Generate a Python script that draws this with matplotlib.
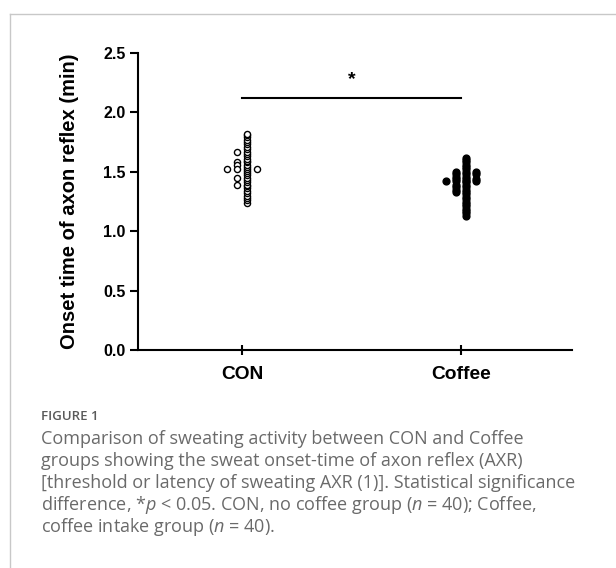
import numpy as np
import matplotlib
matplotlib.use("Agg")
import matplotlib.pyplot as plt
from matplotlib.lines import Line2D

# data (min)
groups = ["CON", "Coffee"]
con = [1.24, 1.26, 1.28, 1.30, 1.32, 1.34, 1.36, 1.38, 1.39, 1.41,
       1.43, 1.45, 1.47, 1.49, 1.51, 1.52, 1.54, 1.56, 1.58, 1.59,
       1.61, 1.63, 1.65, 1.67, 1.69, 1.71, 1.73, 1.75, 1.77, 1.79,
       1.81, 1.82, 1.67, 1.58, 1.56, 1.52, 1.52, 1.52, 1.45, 1.39]
coffee = [1.13, 1.15, 1.17, 1.19, 1.21, 1.23, 1.25, 1.27, 1.29, 1.31,
          1.33, 1.35, 1.37, 1.39, 1.41, 1.42, 1.44, 1.46, 1.48, 1.50,
          1.52, 1.54, 1.56, 1.58, 1.60, 1.62,
          1.33, 1.35, 1.37, 1.39, 1.42, 1.44, 1.46, 1.48, 1.50,
          1.42, 1.44, 1.48, 1.50, 1.42]
sig_y = 2.12
yticks = [0.0, 0.5, 1.0, 1.5, 2.0, 2.5]

caption = ["Comparison of sweating activity between CON and Coffee",
           "groups showing the sweat onset-time of axon reflex (AXR)",
           "[threshold or latency of sweating AXR (1)]. Statistical significance",
           "difference, *$p$ < 0.05. CON, no coffee group ($n$ = 40); Coffee,",
           "coffee intake group ($n$ = 40)."]


def swarm(vals, step=0.046, tol=0.008):
    # slots: 0, -1, +1, -2, +2 ... ; a point moves out when its slot is taken
    order = [0, -1, 1, -2, 2, -3, 3]
    placed = {k: [] for k in order}
    xs = []
    for v in vals:
        for k in order:
            if all(abs(v - w) > tol for w in placed[k]):
                placed[k].append(v)
                xs.append(k * step)
                break
    xs = np.array(xs)
    # centre the whole spread on the category
    return xs - (xs.min() + xs.max()) / 2


plt.rcParams['font.family'] = ['Liberation Sans', 'DejaVu Sans']
plt.rcParams['mathtext.fontset'] = 'custom'
plt.rcParams['mathtext.rm'] = 'Open Sans'
plt.rcParams['mathtext.it'] = 'Open Sans:italic'

fig = plt.figure(figsize=(6.16, 5.68), dpi=100)
ax = fig.add_axes([138 / 616, 1 - 350 / 568, 434 / 616, 297 / 568])

ax.plot(0 + swarm(con), con, 'o', ms=4.4, mfc='white', mec='black', mew=1.0,
        linestyle='none', clip_on=False)
ax.plot(1 + swarm(coffee), coffee, 'o', ms=4.9, mfc='black', mec='black',
        linestyle='none', clip_on=False)

# significance bar
ax.plot([0, 1], [sig_y, sig_y], color='black', lw=1.5, clip_on=False)
ax.text(0.5, sig_y + 0.16, '*', ha='center', va='center', fontsize=14,
        fontweight='bold')

ax.set_xlim(-0.475, 1.507)
ax.set_ylim(0, 2.5)
ax.set_xticks([0, 1])
ax.set_xticklabels(groups, fontsize=13.8, fontweight='bold')
ax.set_yticks(yticks)
ax.set_yticklabels([f"{t:.1f}" for t in yticks], fontsize=11.5, fontweight='bold')
ax.set_ylabel('Onset time of axon reflex (min)', fontsize=14.5, fontweight='bold')
ax.yaxis.set_label_coords(-0.135, 0.5)

for s in ['top', 'right']:
    ax.spines[s].set_visible(False)
for s in ['left', 'bottom']:
    ax.spines[s].set_linewidth(1.5)
ax.tick_params(axis='y', direction='out', length=6, width=1.5, pad=3)
ax.tick_params(axis='x', direction='inout', length=7, width=1.5, pad=8)

# frame lines of the figure panel
fig.add_artist(Line2D([10 / 616, 1], [1 - 14 / 568] * 2, color='#c8c8c8', lw=1))
fig.add_artist(Line2D([10 / 616] * 2, [0, 1 - 14 / 568], color='#c8c8c8', lw=1))

fig.text(41 / 616, 1 - 416 / 568, 'FIGURE 1', fontsize=9.5, color='#5a5a5a',
         family='Open Sans', fontweight='semibold', va='center')
line_y = [437, 459, 480.5, 502, 524]
for txt, yy in zip(caption, line_y):
    fig.text(41 / 616, 1 - yy / 568, txt, fontsize=13, color='#6a6a6a',
             family='Open Sans', va='center_baseline')

fig.savefig('out.png', dpi=100)
